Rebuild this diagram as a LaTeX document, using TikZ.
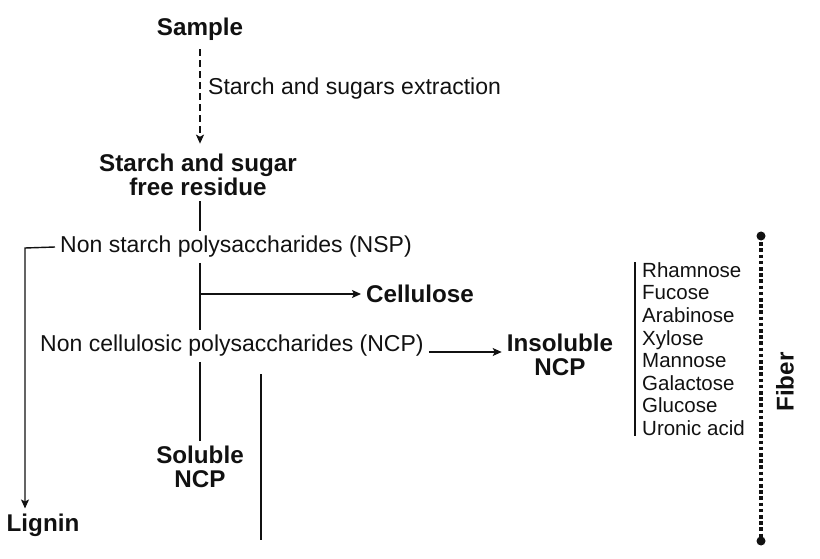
\documentclass[tikz,border=0pt]{standalone}
\usepackage{fontspec}
\setmainfont{Liberation Sans}
\usepackage{tikz}
\usepackage{xcolor}
\usetikzlibrary{arrows.meta,positioning,calc}
\definecolor{ink}{HTML}{111111}
\newcommand{\bigtxt}{\fontsize{23}{24.5}\selectfont}
\newcommand{\boldtxt}{\fontsize{24.2}{24.5}\selectfont\bfseries}
\newcommand{\listtxt}{\fontsize{20.5}{22.6}\selectfont}
\tikzset{
  stage/.style={font=\boldtxt,align=center,text=ink,inner sep=5pt},
  plain/.style={font=\bigtxt,text=ink,inner sep=5pt},
  sugarlist/.style={font=\listtxt,align=left,text=ink,inner sep=0pt},
  stem/.style={draw=ink,line width=1.4pt},
  flowarr/.style={-{Stealth[length=9pt,width=8pt,inset=2pt]},draw=ink,line width=1.4pt},
  dotline/.style={draw=ink,line width=4.2pt,dash pattern=on 3.6pt off 2.6pt}
}

\begin{document}
\begin{tikzpicture}[x=1pt,y=1pt]
  \useasboundingbox (0,0) rectangle (820,-559);

  % main column
  \node[stage] (sample) at (200,-29) {Sample};
  \node[stage] (residue) at (198,-175) {Starch and sugar\\free residue};
  \node[plain,anchor=west] (extract) at (203,-89) {Starch and sugars extraction};
  \node[plain,anchor=west] (nsp) at (55,-247) {Non starch polysaccharides (NSP)};
  \node[stage,anchor=west] (cellulose) at (361,-294) {Cellulose};
  \node[plain,anchor=west] (ncp) at (35,-346) {Non cellulosic polysaccharides (NCP)};
  \node[stage] (insoluble) at (560,-355) {Insoluble\\NCP};
  \node[stage] (soluble) at (200,-467) {Soluble\\NCP};
  \node[stage] (lignin) at (43,-525) {Lignin};

  % sugars and fiber
  \node[sugarlist,anchor=west] (sugars) at (642,-349)
    {Rhamnose\\Fucose\\Arabinose\\Xylose\\Mannose\\Galactose\\Glucose\\Uronic acid};
  \node[stage,rotate=90] (fiber) at (785,-382) {Fiber};

  \coordinate (trunk) at (200,0);
  \coordinate (ligturn) at (25,-248);
  \coordinate (wallTop) at (261,-374);
  \coordinate (wallBot) at (261,-540);
  \coordinate (fibTop) at (761,-236);
  \coordinate (fibBot) at (761,-541);

  \draw[flowarr,dash pattern=on 7pt off 4pt,shorten <=4pt,shorten >=5pt] (sample.south) -- (sample.south |- residue.north);
  \draw[stem] (trunk |- residue.south) -- (trunk |- nsp.north);
  \draw[flowarr] (nsp.west) -- (ligturn) -- (ligturn |- lignin.north);
  \draw[stem] (trunk |- nsp.south) -- (trunk |- ncp.north);
  \draw[flowarr] (trunk |- cellulose.west) -- (cellulose.west);
  \draw[flowarr] ([yshift=-6pt]ncp.east) -- ([yshift=-6pt]ncp.east -| insoluble.west);
  \draw[stem] (trunk |- ncp.south) -- (trunk |- soluble.north);
  \draw[stem] (wallTop) -- (wallBot);
  \draw[stem] ([xshift=-7pt]sugars.north west) -- ([xshift=-7pt]sugars.south west);
  \draw[dotline] (fibTop) -- (fibBot);
  \fill[ink] (fibTop) circle (4.5pt) (fibBot) circle (4.5pt);
\end{tikzpicture}
\end{document}
